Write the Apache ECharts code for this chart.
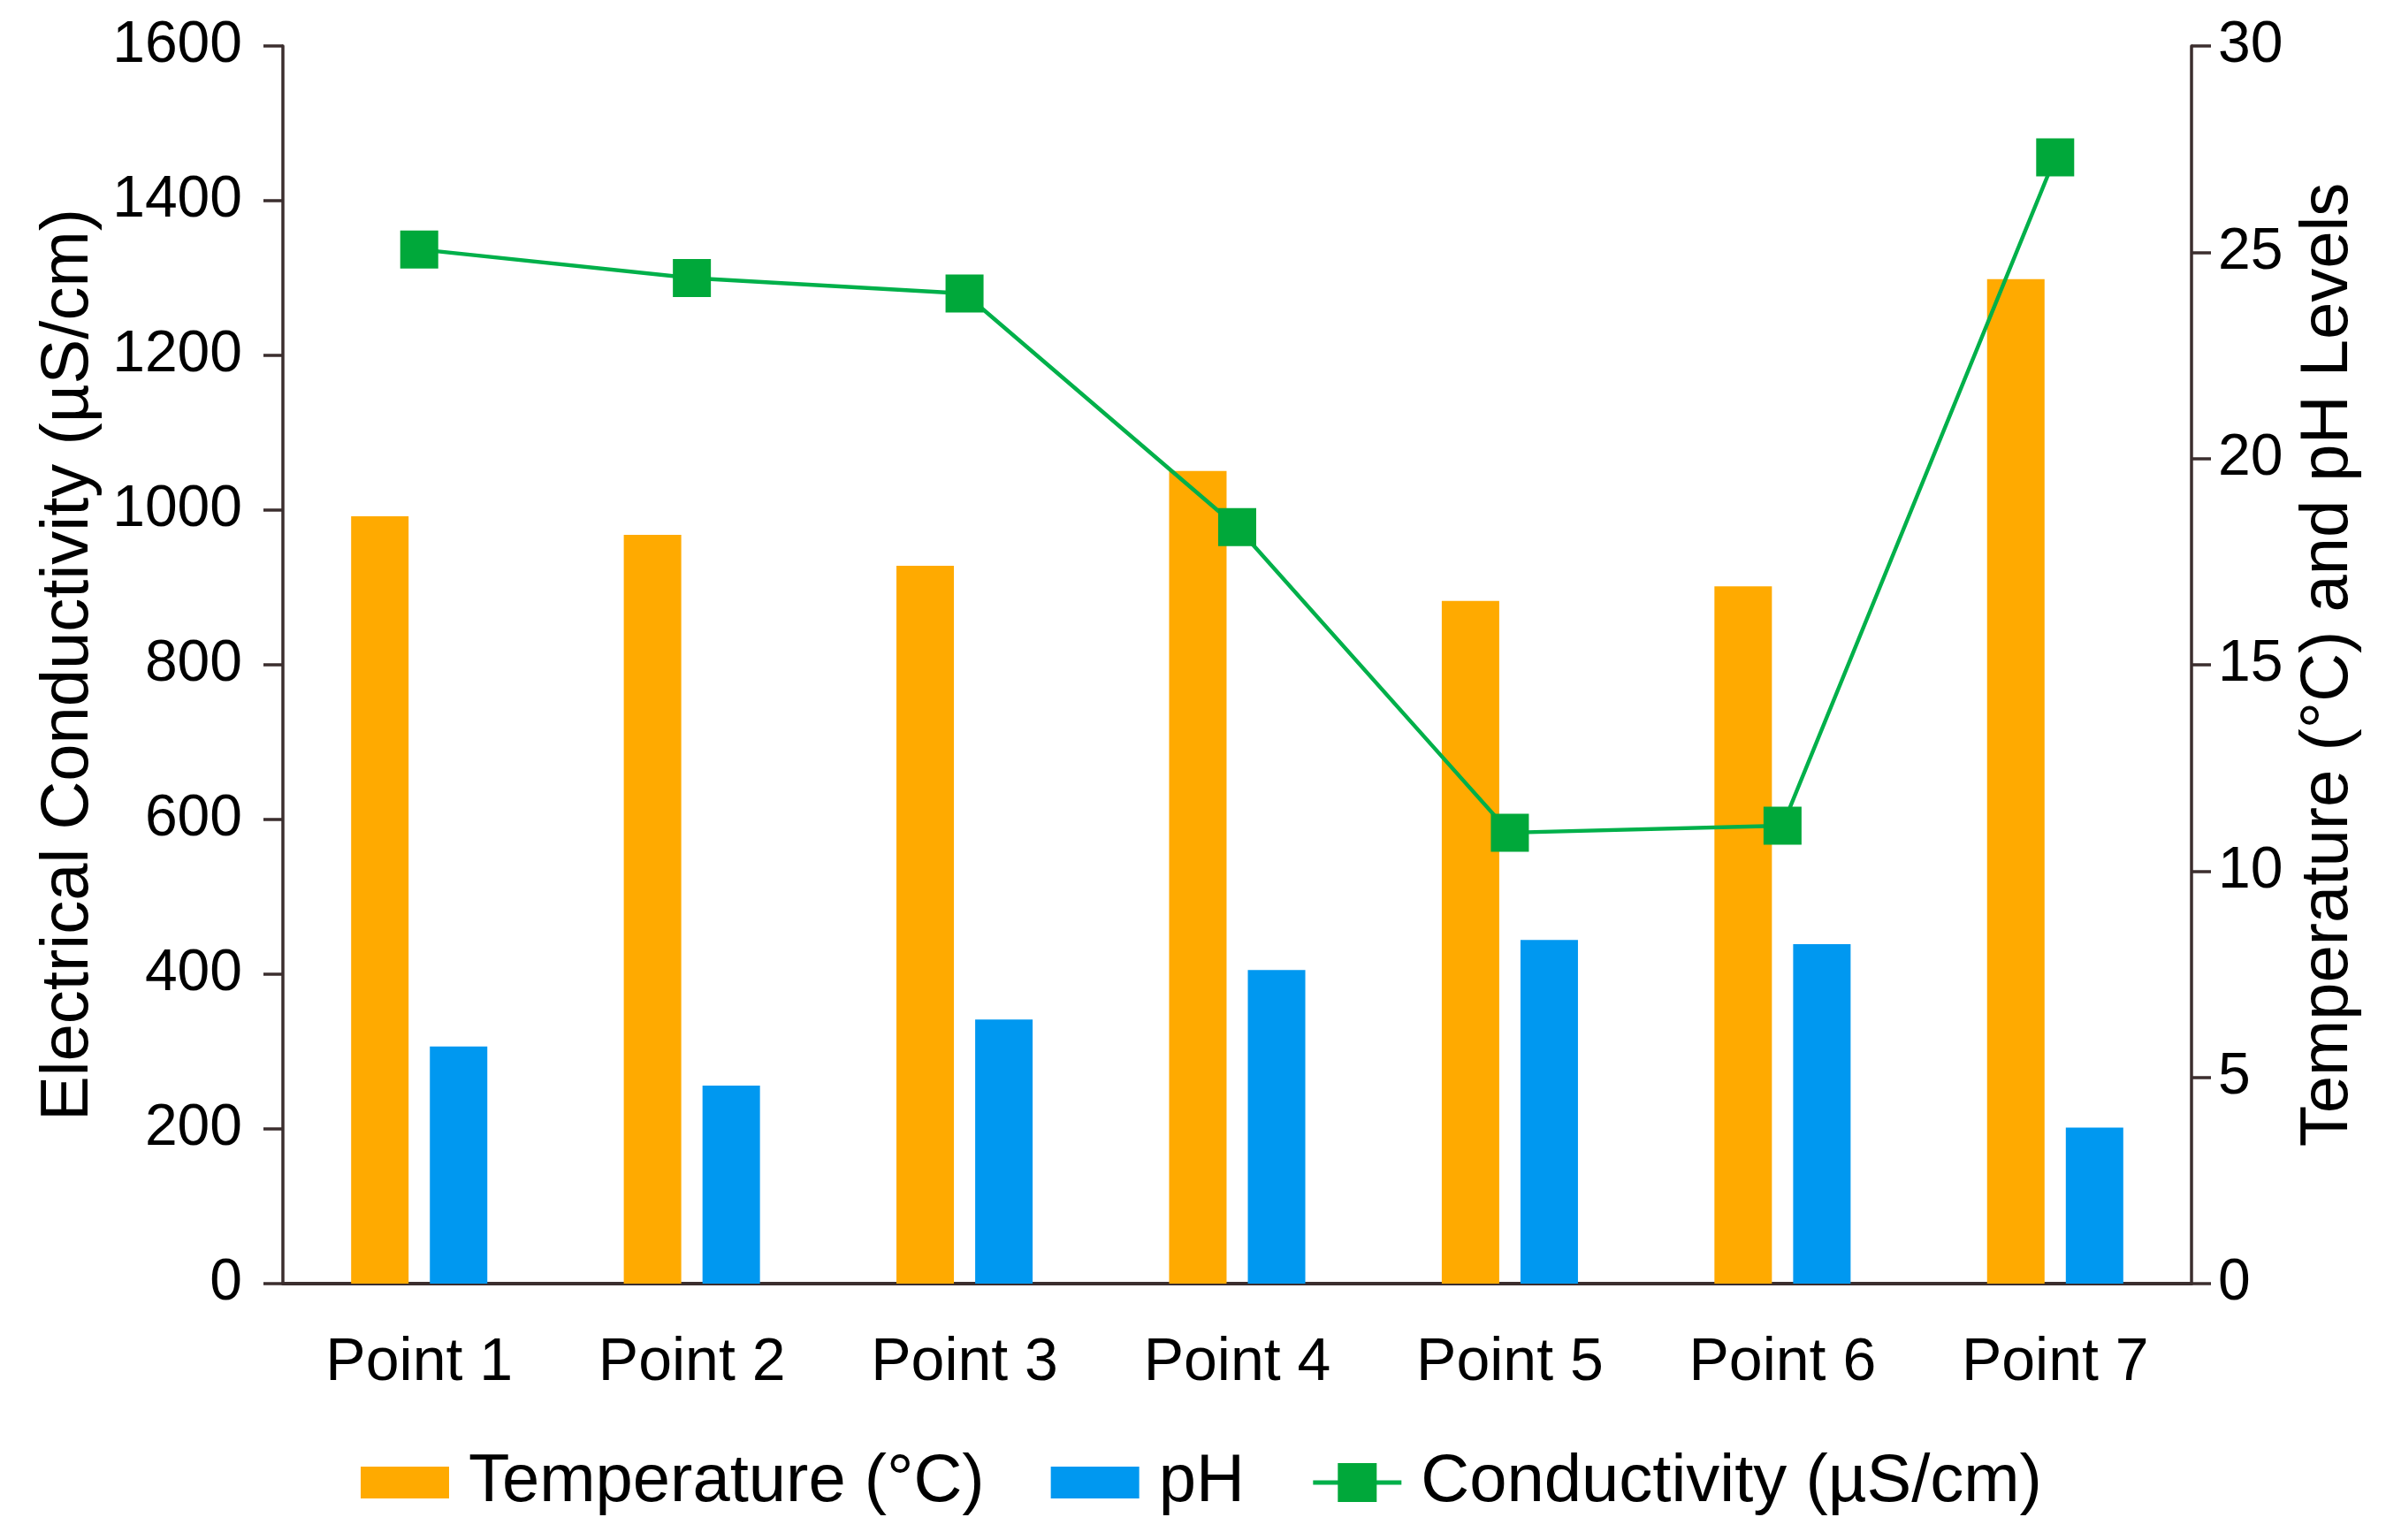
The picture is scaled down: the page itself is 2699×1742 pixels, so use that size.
<!DOCTYPE html>
<html>
<head>
<meta charset="utf-8">
<script src="https://cdn.jsdelivr.net/npm/echarts@6/dist/echarts.min.js"></script>
<style>
html,body{margin:0;padding:0;background:#fff;}
#chart{width:2699px;height:1742px;}
</style>
</head>
<body>
<div id="chart"></div>
<script>
const categories = ['Point 1','Point 2','Point 3','Point 4','Point 5','Point 6','Point 7'];
const temperature = [18.6, 18.15, 17.4, 19.7, 16.55, 16.9, 24.35];
const ph = [5.75, 4.8, 6.4, 7.6, 8.33, 8.23, 3.78];
const conductivity = [1337, 1300, 1280, 978, 583, 592, 1456];
const leftTicks = {min: 0, max: 1600, interval: 200};
const rightTicks = {min: 0, max: 30, interval: 5};

const FONT = '"Liberation Sans", Arial, Helvetica, sans-serif';
const AXIS_COLOR = '#3b2e2e';
const BAR_ICON = 'path://M0,0h100v36h-100z';

const chart = echarts.init(document.getElementById('chart'), null, {renderer: 'canvas'});
chart.setOption({
  backgroundColor: '#ffffff',
  animation: false,
  textStyle: {fontFamily: FONT, color: '#000'},
  grid: {left: 320, right: 220, top: 52, bottom: 290, containLabel: false},
  legend: {
    data: [
      {name: 'Temperature (°C)', icon: BAR_ICON},
      {name: 'pH', icon: BAR_ICON},
      {name: 'Conductivity (µS/cm)', lineStyle: {width: 5}}
    ],
    left: 403,
    top: 1634,
    itemWidth: 100,
    itemHeight: 55,
    itemGap: 75,
    symbolKeepAspect: true,
    textStyle: {fontSize: 76, fontFamily: FONT, color: '#000', padding: [0, 0, 0, 17]}
  },
  xAxis: {
    type: 'category',
    data: categories,
    axisLine: {show: true, lineStyle: {color: AXIS_COLOR, width: 4}},
    axisTick: {show: false},
    axisLabel: {fontSize: 68, color: '#000', margin: 56, fontFamily: FONT},
    splitLine: {show: false}
  },
  yAxis: [
    {
      type: 'value',
      position: 'left',
      min: leftTicks.min, max: leftTicks.max, interval: leftTicks.interval,
      name: 'Electrical Conductivity (µS/cm)',
      nameLocation: 'middle',
      nameGap: 200,
      nameTextStyle: {fontSize: 76, color: '#000', fontFamily: FONT},
      axisLine: {show: true, lineStyle: {color: AXIS_COLOR, width: 3.5}},
      axisTick: {show: true, length: 22, lineStyle: {color: AXIS_COLOR, width: 3.5}},
      axisLabel: {fontSize: 66, color: '#000', margin: 46, fontFamily: FONT,
                  formatter: function (v) { return String(v); }},
      splitLine: {show: false}
    },
    {
      type: 'value',
      position: 'right',
      min: rightTicks.min, max: rightTicks.max, interval: rightTicks.interval,
      name: 'Temperature (°C) and pH Levels',
      nameLocation: 'middle',
      nameGap: 117,
      nameTextStyle: {fontSize: 76, color: '#000', fontFamily: FONT},
      axisLine: {show: true, lineStyle: {color: AXIS_COLOR, width: 3.5}},
      axisTick: {show: true, length: 22, lineStyle: {color: AXIS_COLOR, width: 3.5}},
      axisLabel: {fontSize: 66, color: '#000', margin: 30, fontFamily: FONT,
                  formatter: function (v) { return String(v); }},
      splitLine: {show: false}
    }
  ],
  series: [
    {
      name: 'Temperature (°C)',
      type: 'bar',
      yAxisIndex: 1,
      data: temperature,
      barWidth: 65,
      barGap: '37%',
      itemStyle: {color: '#FFAA00'}
    },
    {
      name: 'pH',
      type: 'bar',
      yAxisIndex: 1,
      data: ph,
      barWidth: 65,
      barGap: '37%',
      itemStyle: {color: '#0098F0'}
    },
    {
      name: 'Conductivity (µS/cm)',
      type: 'line',
      yAxisIndex: 0,
      data: conductivity,
      symbol: 'rect',
      symbolSize: 43,
      showAllSymbol: true,
      lineStyle: {color: '#00B04A', width: 4.5},
      itemStyle: {color: '#00A83A'},
      z: 5
    }
  ]
});
</script>
</body>
</html>
